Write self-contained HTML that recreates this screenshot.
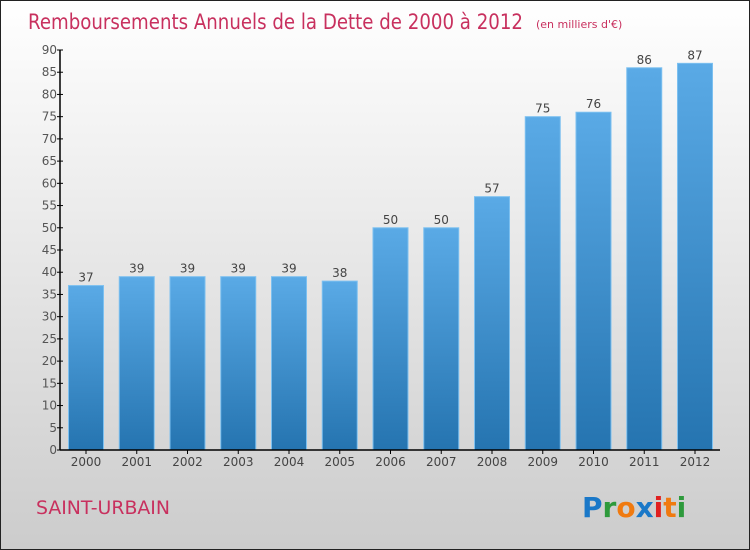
<!DOCTYPE html>
<html><head><meta charset="utf-8"><style>
body{margin:0}
svg{display:block;font-family:"DejaVu Sans","Liberation Sans",sans-serif}
</style></head><body>
<svg width="750" height="550" viewBox="0 0 750 550">
<defs>
<linearGradient id="bg" x1="0" y1="0" x2="0" y2="1"><stop offset="0" stop-color="#ffffff"/><stop offset="1" stop-color="#cccccc"/></linearGradient>
<linearGradient id="bar" x1="0" y1="0" x2="0" y2="1"><stop offset="0" stop-color="#5aaae6"/><stop offset="1" stop-color="#2574b0"/></linearGradient>
</defs>
<rect x="0.5" y="0.5" width="749" height="549" fill="url(#bg)" stroke="#222"/>
<text x="28" y="29" font-size="21" fill="#c8305e" textLength="495" lengthAdjust="spacingAndGlyphs">Remboursements Annuels de la Dette de 2000 à 2012</text>
<text x="536" y="28" font-size="11" fill="#c8305e">(en milliers d'€)</text>
<g id="yaxis"></g><g id="bars"></g><g id="xaxis"></g>
<text x="36" y="514" font-size="19" fill="#c8305e" textLength="134" lengthAdjust="spacingAndGlyphs">SAINT-URBAIN</text>
<g font-size="28" font-family="'DejaVu Sans',sans-serif" font-weight="bold">
<text x="582" y="517"><tspan fill="#1a78c8">P</tspan><tspan fill="#2e9a3c">r</tspan><tspan fill="#f07a10">o</tspan><tspan fill="#1a78c8">x</tspan><tspan fill="#e02020">i</tspan><tspan fill="#f07a10">t</tspan><tspan fill="#2e9a3c">i</tspan></text>
</g>
</svg>
<script>
const categories=["2000","2001","2002","2003","2004","2005","2006","2007","2008","2009","2010","2011","2012"];
const values=[37,39,39,39,39,38,50,50,57,75,76,86,87];
const yTicks=[0,5,10,15,20,25,30,35,40,45,50,55,60,65,70,75,80,85,90];
const NS="http://www.w3.org/2000/svg";
const y0=450,yTop=50,yMax=90,x0=60,x1=720,step=50.75,first=86,bw=35;
const yS=v=>y0-(v/yMax)*(y0-yTop);
const xS=i=>first+i*step;
function mk(t,a,p){const e=document.createElementNS(NS,t);for(const k in a)e.setAttribute(k,a[k]);p.appendChild(e);return e;}
const ya=document.getElementById('yaxis'),ba=document.getElementById('bars'),xa=document.getElementById('xaxis');
const yl=mk('line',{x1:x0,y1:yTop,x2:x0,y2:y0,stroke:'#000','stroke-width':1.5},ya);


yTicks.forEach(v=>{
 const t=mk('line',{x1:x0-3,x2:x0+3,y1:yS(v),y2:yS(v),stroke:'#000'},ya);
 
 
 const l=mk('text',{x:x0-3,y:yS(v)+4,'text-anchor':'end','font-size':12,fill:'#555'},ya);
 l.textContent=v;
 
 
});
values.forEach((v,i)=>{
 const r=mk('rect',{x:xS(i)-bw/2,y:yS(v),width:bw,height:y0-yS(v),fill:'url(#bar)',stroke:'#7cc0f0','stroke-width':1},ba);
 
 
 const l=mk('text',{x:xS(i),y:yS(v)-4,'text-anchor':'middle','font-size':12,fill:'#444'},ba);
 l.textContent=v;
 
 
});
const xl=mk('line',{x1:x0,y1:y0,x2:x1,y2:y0,stroke:'#000','stroke-width':1.5},xa);


categories.forEach((c,i)=>{
 const t=mk('line',{x1:xS(i),x2:xS(i),y1:y0,y2:y0+4,stroke:'#000'},xa);
 
 
 const l=mk('text',{x:xS(i),y:y0+16,'text-anchor':'middle','font-size':12,fill:'#444'},xa);
 l.textContent=c;
 
 
});
</script>
</body></html>
